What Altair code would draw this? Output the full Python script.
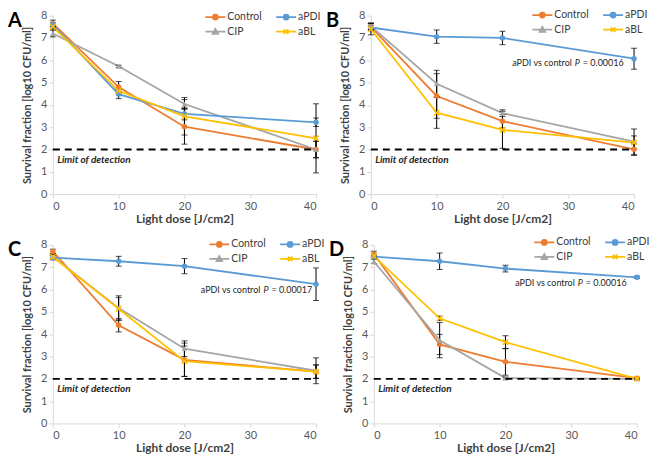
import altair as alt
import pandas as pd

doses = [0, 10, 20, 40]
series = ["Control", "CIP", "aPDI", "aBL"]
colors = ["#ED7D31", "#A5A5A5", "#5B9BD5", "#FFC000"]

# Panel A
a_vals = {
    "Control": [7.65, 4.80, 3.02, 2.00],
    "aPDI": [7.60, 4.48, 3.60, 3.22],
    "CIP": [7.20, 5.73, 4.04, 2.00],
    "aBL": [7.50, 4.63, 3.49, 2.50],
}
a_errs = {
    "Control": [0.15, 0.25, 0.78, 0.37],
    "aPDI": [0.08, 0.20, 0.27, 0.19],
    "CIP": [0.15, 0.05, 0.20, 0.37],
    "aBL": [0.10, 0.10, 0.84, 1.55],
}
# Panel B
b_vals = {
    "Control": [7.50, 4.40, 3.27, 2.01],
    "aPDI": [7.47, 7.06, 7.00, 6.07],
    "CIP": [7.53, 4.95, 3.63, 2.35],
    "aBL": [7.39, 3.65, 2.88, 2.31],
}
b_errs = {
    "Control": [0.15, 1.00, 0.30, 0.28],
    "aPDI": [0.10, 0.30, 0.30, 0.47],
    "CIP": [0.15, 0.60, 0.15, 0.57],
    "aBL": [0.25, 0.70, 0.83, 0.30],
}
# Panel C
c_vals = {
    "Control": [7.71, 4.40, 2.85, 2.32],
    "aPDI": [7.43, 7.27, 7.05, 6.24],
    "CIP": [7.49, 5.17, 3.35, 2.36],
    "aBL": [7.46, 5.14, 2.79, 2.32],
}
c_errs = {
    "Control": [0.10, 0.30, 0.75, 0.30],
    "aPDI": [0.10, 0.22, 0.34, 0.73],
    "CIP": [0.10, 0.55, 0.35, 0.58],
    "aBL": [0.10, 0.50, 0.68, 0.30],
}
# Panel D
d_vals = {
    "Control": [7.60, 3.54, 2.76, 2.03],
    "aPDI": [7.48, 7.27, 6.94, 6.55],
    "CIP": [7.26, 3.73, 2.03, 2.00],
    "aBL": [7.50, 4.71, 3.64, 2.00],
}
d_errs = {
    "Control": [0.12, 0.45, 0.60, 0.03],
    "aPDI": [0.05, 0.37, 0.15, 0.05],
    "CIP": [0.10, 0.79, 0.05, 0.02],
    "aBL": [0.10, 0.10, 0.29, 0.02],
}

p_texts = [None, "0.00016", "0.00017", "0.00016"]
p_x = [None, 31.0, 32.0, 31.0]
p_y = [None, 5.9, 6.0, 6.31]
letters = ["A", "B", "C", "D"]
legend_x = [157, 166, 161, 165]
legend_y = [-5, -7, -7, -9]

FONT = "Lato"
W, H = 264, 179

cscale = alt.Scale(domain=series, range=colors)
circle_path = "M-2,0H2M0.5,0A0.5,0.5,0,1,1,-0.5,0A0.5,0.5,0,1,1,0.5,0Z"
leg_paths = [
    circle_path,
    "M-2,0H2M0,-0.55L0.55,0.45L-0.55,0.45Z",
    circle_path,
    "M-2,0H2M-0.45,-0.45L0.45,0.45M-0.45,0.45L0.45,-0.45",
]


def X(f):
    return alt.X(f"{f}:Q", scale=alt.Scale(domain=[0, 40], nice=False, zero=False, padding=0),
                 axis=alt.Axis(values=[0, 10, 20, 30, 40], title="Light dose [J/cm2]"))


def Y(f):
    return alt.Y(f"{f}:Q", scale=alt.Scale(domain=[0, 8], nice=False, padding=0),
                 axis=alt.Axis(values=list(range(9)), title="Survival fraction [log10 CFU/ml]"))


def make_panel(i, vals, errs):
    rows = []
    for s in series:
        for d, v, e in zip(doses, vals[s], errs[s]):
            rows.append({"series": s, "dose": d, "value": v, "lo": v - e, "hi": v + e})
    df = pd.DataFrame(rows)
    legend = alt.Legend(title=None, orient="none", legendX=legend_x[i], legendY=legend_y[i],
                        columns=2, columnPadding=10, rowPadding=1, padding=0, gridAlign="each",
                        symbolSize=100, symbolStrokeWidth=1.8, symbolOpacity=1,
                        labelFontSize=10.5, labelColor="#404040", labelFont=FONT, labelOffset=6)
    col = alt.Color("series:N", scale=cscale, legend=legend)
    base = alt.Chart(df)
    leg_layer = base.transform_filter("false").mark_point(filled=True, size=100, strokeWidth=1.8).encode(
        X("dose"), Y("value"), color=col,
        stroke=alt.Stroke("series:N", scale=cscale, legend=legend),
        shape=alt.Shape("series:N", scale=alt.Scale(domain=series, range=leg_paths), legend=legend),
    )
    lines = base.mark_line(strokeWidth=1.8).encode(X("dose"), Y("value"), color=col)
    rules = base.mark_rule(color="black", strokeWidth=1).encode(X("dose"), Y("lo"), y2="hi:Q")
    tick_lo = base.mark_tick(color="black", orient="horizontal", size=6, thickness=1).encode(X("dose"), Y("lo"))
    tick_hi = base.mark_tick(color="black", orient="horizontal", size=6, thickness=1).encode(X("dose"), Y("hi"))
    pts_c = base.transform_filter(alt.FieldOneOfPredicate(field="series", oneOf=["Control", "aPDI"])).mark_point(
        shape="circle", filled=True, size=30, opacity=1).encode(X("dose"), Y("value"), color=col)
    pts_t = base.transform_filter(alt.FieldEqualPredicate(field="series", equal="CIP")).mark_point(
        shape="triangle-up", filled=True, size=32, opacity=1).encode(X("dose"), Y("value"), color=col)
    pts_x = base.transform_filter(alt.FieldEqualPredicate(field="series", equal="aBL")).mark_point(
        shape="M-1,-1L1,1M-1,1L1,-1", filled=False, size=30, strokeWidth=1.5, opacity=1).encode(
        X("dose"), Y("value"), color=col)

    lod_df = pd.DataFrame({"x0": [0], "x1": [40], "y": [2]})
    lod = alt.Chart(lod_df).mark_rule(color="black", strokeWidth=1.8, strokeDash=[7, 5]).encode(
        X("x0"), x2="x1:Q", y=Y("y"))
    lod_txt_df = pd.DataFrame({"x": [0.65], "y": [1.55], "t": ["Limit of detection"]})
    lod_txt = alt.Chart(lod_txt_df).mark_text(align="left", baseline="middle", fontSize=10,
                                              fontStyle="italic", fontWeight="bold", font=FONT,
                                              color="#262626").encode(X("x"), Y("y"), text="t:N")
    letter_df = pd.DataFrame({"t": [letters[i]]})
    letter = alt.Chart(letter_df).mark_text(align="left", baseline="top", fontSize=20, fontWeight="bold",
                                            font=FONT, color="black").encode(
        x=alt.value(-45), y=alt.value(-5), text="t:N")

    layers = [leg_layer, lines, rules, tick_lo, tick_hi, pts_c, pts_t, pts_x, lod, lod_txt, letter]
    if p_texts[i]:
        pdf = pd.DataFrame({"x": [p_x[i]], "y": [p_y[i]], "a": ["aPDI vs control"], "p": ["P"],
                            "v": ["= " + p_texts[i]]})
        pb = alt.Chart(pdf)
        t1 = pb.mark_text(align="right", baseline="middle", fontSize=9, font=FONT, color="#262626", dx=-3).encode(
            X("x"), Y("y"), text="a:N")
        t2 = pb.mark_text(align="left", baseline="middle", fontSize=9, font=FONT, color="#262626",
                          fontStyle="italic").encode(X("x"), Y("y"), text="p:N")
        t3 = pb.mark_text(align="left", baseline="middle", fontSize=9, font=FONT, color="#262626", dx=8).encode(
            X("x"), Y("y"), text="v:N")
        layers += [t1, t2, t3]
    return alt.layer(*layers).properties(width=W, height=H)


panels = [make_panel(0, a_vals, a_errs), make_panel(1, b_vals, b_errs),
          make_panel(2, c_vals, c_errs), make_panel(3, d_vals, d_errs)]

ind = dict(color="independent", stroke="independent", shape="independent")
chart = alt.vconcat(
    alt.hconcat(panels[0], panels[1], spacing=4).resolve_scale(**ind),
    alt.hconcat(panels[2], panels[3], spacing=4).resolve_scale(**ind),
    spacing=12,
).resolve_scale(**ind).properties(padding=0, background="white").configure_view(stroke=None).configure_axis(
    grid=False, domainColor="#D9D9D9", tickColor="#D9D9D9", tickSize=4, labelPadding=2,
    labelColor="#595959", labelFontSize=11, labelFont=FONT,
    titleFont=FONT, titleFontSize=11, titleFontWeight="bold", titleColor="#404040",
).configure_axisY(titlePadding=8).configure_axisX(titlePadding=2, titleFontSize=12)

chart.save("out.html", embed_options={"renderer": "svg", "actions": False})
